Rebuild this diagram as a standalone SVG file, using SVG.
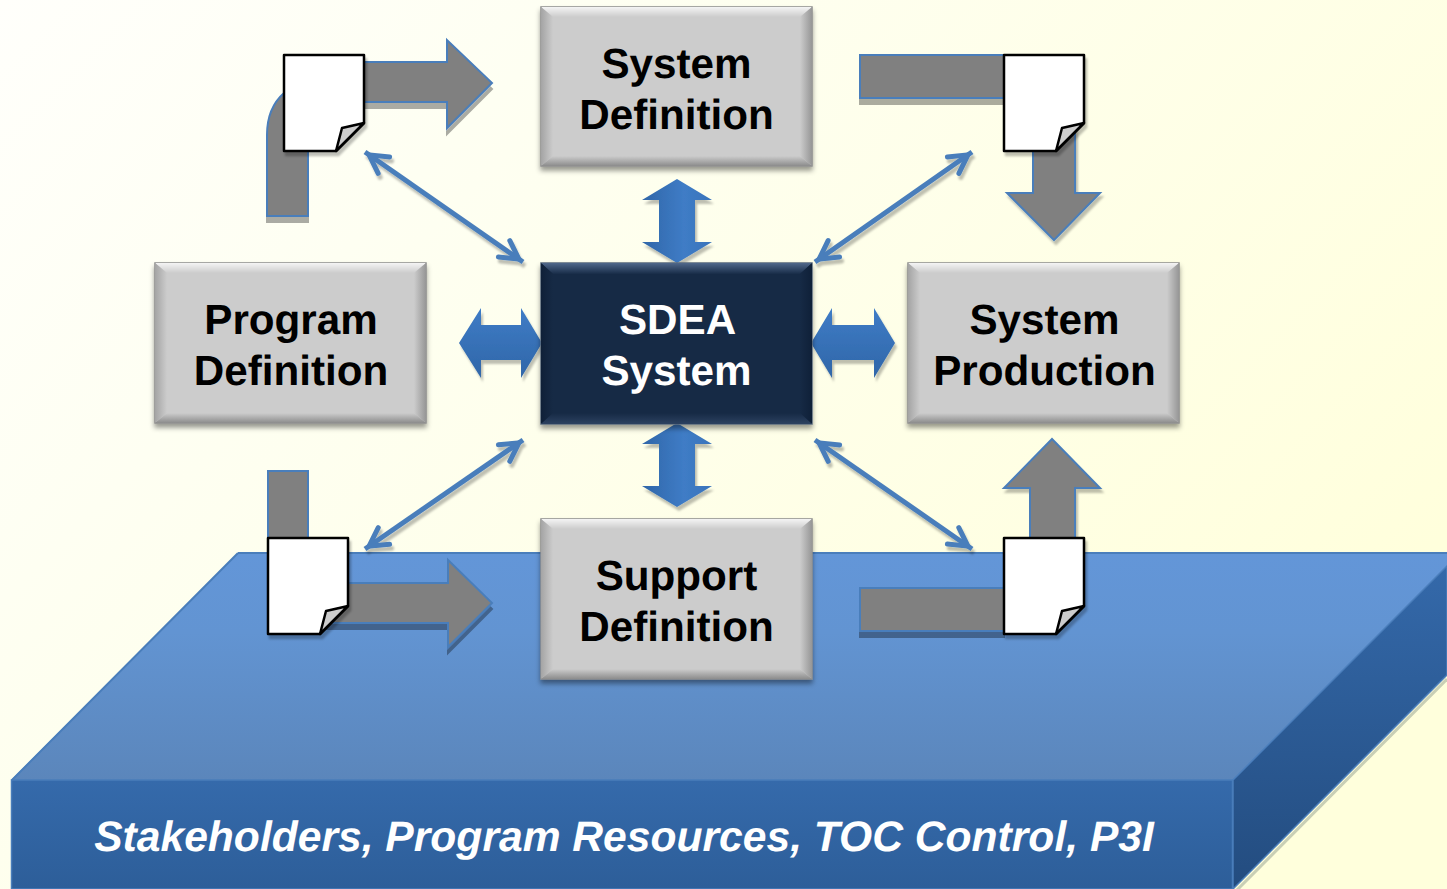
<svg xmlns="http://www.w3.org/2000/svg" width="1447" height="889" viewBox="0 0 1447 889">
<defs>
<linearGradient id="bg" x1="0" y1="0" x2="1" y2="0.6"><stop offset="0" stop-color="#fffffb"/><stop offset="0.3" stop-color="#fefff2"/><stop offset="1" stop-color="#ffffdc"/></linearGradient>
<linearGradient id="top" x1="0" y1="0" x2="0" y2="1"><stop offset="0" stop-color="#6396d8"/><stop offset="0.35" stop-color="#6294d2"/><stop offset="1" stop-color="#5b86bb"/></linearGradient>
<linearGradient id="front" x1="0" y1="0" x2="0" y2="1"><stop offset="0" stop-color="#356aab"/><stop offset="1" stop-color="#2d5e99"/></linearGradient>
<linearGradient id="side" x1="0" y1="0" x2="0" y2="1"><stop offset="0" stop-color="#3469aa"/><stop offset="1" stop-color="#234c7f"/></linearGradient>
<linearGradient id="bv" x1="0" y1="0" x2="1" y2="0"><stop offset="0" stop-color="#2f66a8"/><stop offset="0.6" stop-color="#3f7cc6"/><stop offset="1" stop-color="#3a74bb"/></linearGradient>
<linearGradient id="bh" x1="0" y1="0" x2="0" y2="1"><stop offset="0" stop-color="#3f7cc6"/><stop offset="1" stop-color="#2f66a8"/></linearGradient>
<linearGradient id="gt" x1="0" y1="0" x2="0" y2="1"><stop offset="0" stop-color="#f4f4f4"/><stop offset="1" stop-color="#cccccc"/></linearGradient>
<linearGradient id="gb" x1="0" y1="0" x2="0" y2="1"><stop offset="0" stop-color="#cccccc"/><stop offset="1" stop-color="#8c8c8c"/></linearGradient>
<linearGradient id="gl" x1="0" y1="0" x2="1" y2="0"><stop offset="0" stop-color="#a4a4a4"/><stop offset="1" stop-color="#cccccc"/></linearGradient>
<linearGradient id="gr" x1="0" y1="0" x2="1" y2="0"><stop offset="0" stop-color="#cccccc"/><stop offset="1" stop-color="#969696"/></linearGradient>
<linearGradient id="dt" x1="0" y1="0" x2="0" y2="1"><stop offset="0" stop-color="#50688a"/><stop offset="1" stop-color="#182c48"/></linearGradient>
<linearGradient id="db" x1="0" y1="0" x2="0" y2="1"><stop offset="0" stop-color="#162a45"/><stop offset="1" stop-color="#2c4160"/></linearGradient>
<linearGradient id="dl" x1="0" y1="0" x2="1" y2="0"><stop offset="0" stop-color="#0f2038"/><stop offset="1" stop-color="#162a45"/></linearGradient>
<linearGradient id="dr" x1="0" y1="0" x2="1" y2="0"><stop offset="0" stop-color="#162a45"/><stop offset="1" stop-color="#0f2038"/></linearGradient>
<marker id="ah" markerUnits="userSpaceOnUse" markerWidth="30" markerHeight="30" refX="29" refY="13" orient="auto-start-reverse" overflow="visible"><path d="M6 3 L24 13 L6 23" fill="none" stroke="#4a7ebb" stroke-width="5" stroke-linecap="round" stroke-linejoin="miter"/></marker>
<filter id="sh" x="-10%" y="-10%" width="120%" height="125%"><feDropShadow dx="0" dy="4" stdDeviation="2.500" flood-color="#000" flood-opacity="0.4"/></filter>
<filter id="sl" x="-10%" y="-10%" width="120%" height="125%"><feDropShadow dx="0" dy="6" stdDeviation="0.500" flood-color="#000" flood-opacity="0.33"/></filter>
<filter id="sa" x="-10%" y="-10%" width="120%" height="120%"><feDropShadow dx="2" dy="4" stdDeviation="1.200" flood-color="#000" flood-opacity="0.25"/></filter>
<style>
text{font-family:"Liberation Sans",Arial,sans-serif;font-weight:700;text-anchor:middle;text-rendering:geometricPrecision}
.l{font-size:42.200px;fill:#000}
.w{font-size:42.200px;fill:#fff}
.ga{fill:#808080;stroke:#4a7ebb;stroke-width:2}
.pg{fill:#fff;stroke:#000;stroke-width:2.500;stroke-linejoin:round}
.cu{fill:#cdcdcd;stroke:#000;stroke-width:2.500;stroke-linejoin:round}
.da{fill:none;stroke:#4a7ebb;stroke-width:5;marker-start:url(#ah);marker-end:url(#ah)}
.box{fill:#cccccc;stroke:#8c8c8c;stroke-width:1.500}
.dark{fill:#162a45;stroke:#5a6a7c;stroke-width:1.500}
</style>
</defs>
<rect width="1447" height="889" fill="url(#bg)"/>
<g id="platform">
<path d="M238 553H1447V566L1233 780H11Z" fill="url(#top)"/>
<path d="M238 553H1447M238 553L12 780" fill="none" stroke="#4a7ebb" stroke-width="2"/>
<rect x="11.500" y="780" width="1221" height="109" fill="url(#front)" stroke="#4a7ebb" stroke-width="1.500"/>
<path d="M1236 891L1447 679" fill="none" stroke="#c9cfb5" stroke-width="3"/>
<path d="M1233 780L1447 566V675L1233 889Z" fill="url(#side)" stroke="#4a7ebb" stroke-width="1.500"/>
<text x="624" y="851" style="font-style:italic;font-size:42.600px;fill:#fff">Stakeholders, Program Resources, TOC Control, P3I</text>
</g>
<g id="connectors">
<g filter="url(#sl)">
<path class="ga" d="M267 216V135Q267 108 284 93V62H447V40L492 83L447 128V102H308V216Z"/>
<path class="ga" d="M860 55H1004V98H860Z"/>
<path class="ga" d="M268 471H308V540H268Z"/>
<path class="ga" d="M325 583H448V560L492 603L448 647V623H325Z"/>
<path class="ga" d="M860 588H1004V631H860Z"/>
</g>
<path class="ga" d="M1033 128H1075V193H1100L1054 240L1007 193H1033Z" filter="url(#sa)"/>
<path class="ga" d="M1030 540V488H1004L1052 439L1100 488H1075V540Z" filter="url(#sa)"/>
<g filter="url(#sa)">
<path class="da" d="M365 152L523 262"/>
<path class="da" d="M972 152L815 262"/>
<path class="da" d="M523 440L365 549"/>
<path class="da" d="M815 440L972 549"/>
</g>
<g filter="url(#sa)">
<path d="M677 179L712 200H695V242H712L677 263L642 242H659V200H642Z" fill="url(#bv)"/>
<path d="M677 423L712 444H695V486H712L677 507L642 486H659V444H642Z" fill="url(#bv)"/>
<path d="M459 343L481 308V325H521V308L542 343L521 378V360H481V378Z" fill="url(#bh)"/>
<path d="M811 343L832 308V325H874V308L895 343L874 378V360H832V378Z" fill="url(#bh)"/>
</g>
</g>
<g id="system-definition">
<rect class="box" x="541" y="7" width="271" height="159" filter="url(#sh)"/>
<path d="M541 7H812L800 17H553Z" fill="url(#gt)"/><path d="M541 7L553 17V156L541 166Z" fill="url(#gl)"/><path d="M812 7L800 17V156L812 166Z" fill="url(#gr)"/><path d="M541 166L553 156H800L812 166Z" fill="url(#gb)"/>
<text x="676.500" y="78" class="l">System</text><text x="676.500" y="129" class="l">Definition</text>
</g>
<g id="program-definition">
<rect class="box" x="155" y="263" width="271" height="160" filter="url(#sh)"/>
<path d="M155 263H426L414 273H167Z" fill="url(#gt)"/><path d="M155 263L167 273V413L155 423Z" fill="url(#gl)"/><path d="M426 263L414 273V413L426 423Z" fill="url(#gr)"/><path d="M155 423L167 413H414L426 423Z" fill="url(#gb)"/>
<text x="291" y="334" class="l">Program</text><text x="291" y="385" class="l">Definition</text>
</g>
<g id="system-production">
<rect class="box" x="908" y="263" width="271" height="160" filter="url(#sh)"/>
<path d="M908 263H1179L1167 273H920Z" fill="url(#gt)"/><path d="M908 263L920 273V413L908 423Z" fill="url(#gl)"/><path d="M1179 263L1167 273V413L1179 423Z" fill="url(#gr)"/><path d="M908 423L920 413H1167L1179 423Z" fill="url(#gb)"/>
<text x="1044.500" y="334" class="l">System</text><text x="1044.500" y="385" class="l">Production</text>
</g>
<g id="support-definition">
<rect class="box" x="541" y="519" width="271" height="160" filter="url(#sh)"/>
<path d="M541 519H812L800 529H553Z" fill="url(#gt)"/><path d="M541 519L553 529V669L541 679Z" fill="url(#gl)"/><path d="M812 519L800 529V669L812 679Z" fill="url(#gr)"/><path d="M541 679L553 669H800L812 679Z" fill="url(#gb)"/>
<text x="676.500" y="590" class="l">Support</text><text x="676.500" y="641" class="l">Definition</text>
</g>
<g id="sdea-system">
<rect class="dark" x="541" y="263" width="271" height="161" filter="url(#sh)"/>
<path d="M541 263H812L800 274H553Z" fill="url(#dt)"/><path d="M541 263L553 274V413L541 424Z" fill="url(#dl)"/><path d="M812 263L800 274V413L812 424Z" fill="url(#dr)"/><path d="M541 424L553 413H800L812 424Z" fill="url(#db)"/>
<text x="677.500" y="334" class="w">SDEA</text><text x="676.500" y="385" class="w">System</text>
</g>
<g id="doc-1" filter="url(#sa)"><path class="pg" d="M284 55H364V123L336 151H284Z"/><path class="cu" d="M364 123L342 128L336 151Z"/></g>
<g id="doc-2" filter="url(#sa)"><path class="pg" d="M1004 55H1084V123L1056 151H1004Z"/><path class="cu" d="M1084 123L1062 128L1056 151Z"/></g>
<g id="doc-3" filter="url(#sa)"><path class="pg" d="M268 538H348V606L320 634H268Z"/><path class="cu" d="M348 606L326 611L320 634Z"/></g>
<g id="doc-4" filter="url(#sa)"><path class="pg" d="M1004 538H1084V606L1056 634H1004Z"/><path class="cu" d="M1084 606L1062 611L1056 634Z"/></g>
</svg>
